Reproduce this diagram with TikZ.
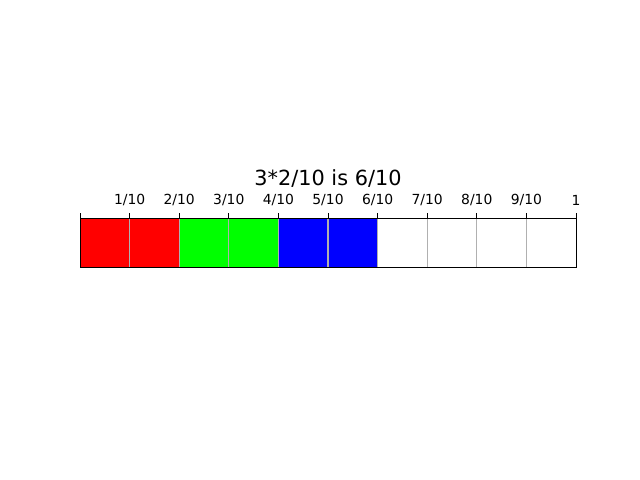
\documentclass[tikz,border=0pt]{standalone}
\usepackage{fontspec}
\setmainfont{DejaVu Sans}
\usepackage{tikz}
\usetikzlibrary{positioning}
\usepackage{xcolor}
\definecolor{gridgray}{HTML}{B0B0B0}
\definecolor{fillred}{HTML}{FF0000}
\definecolor{fillgreen}{HTML}{00FF00}
\definecolor{fillblue}{HTML}{0000FF}

\begin{document}
\begin{tikzpicture}[x=0.72pt,y=0.72pt,
		ticklab/.style={font=\fontsize{10}{12}\selectfont,inner sep=0pt},
		tickline/.style={black,line width=0.65pt}]
	\useasboundingbox (0,0) rectangle (640,480);
	% parts filled in
	\foreach \i/\col in {0/fillred,1/fillred,2/fillgreen,3/fillgreen,4/fillblue,5/fillblue}{
		\fill[\col] ({80+49.6*\i},213) rectangle ({80+49.6*(\i+1)},262);
	}
	% grid lines
	\foreach \i in {1,...,9}{
		\draw[gridgray,line width=0.8pt] ({80+49.6*\i},213)--({80+49.6*\i},262);
	}
	% frame
	\draw[tickline] (80,213) rectangle (576,262);
	% ticks and labels
	\foreach \i in {0,...,10}{
		\draw[tickline] ({80+49.6*\i},262)--({80+49.6*\i},267);
	}
	\foreach \i in {1,...,9}{
		\node[ticklab] (t\i) at ({80+49.6*\i},280) {\i/10};
	}
	\node[ticklab] (t10) at (576,280) {1};
	% title
	\node[font=\fontsize{15}{18}\selectfont,inner sep=0pt] (title) at (328,301) {3*2/10 is 6/10};
\end{tikzpicture}
\end{document}
